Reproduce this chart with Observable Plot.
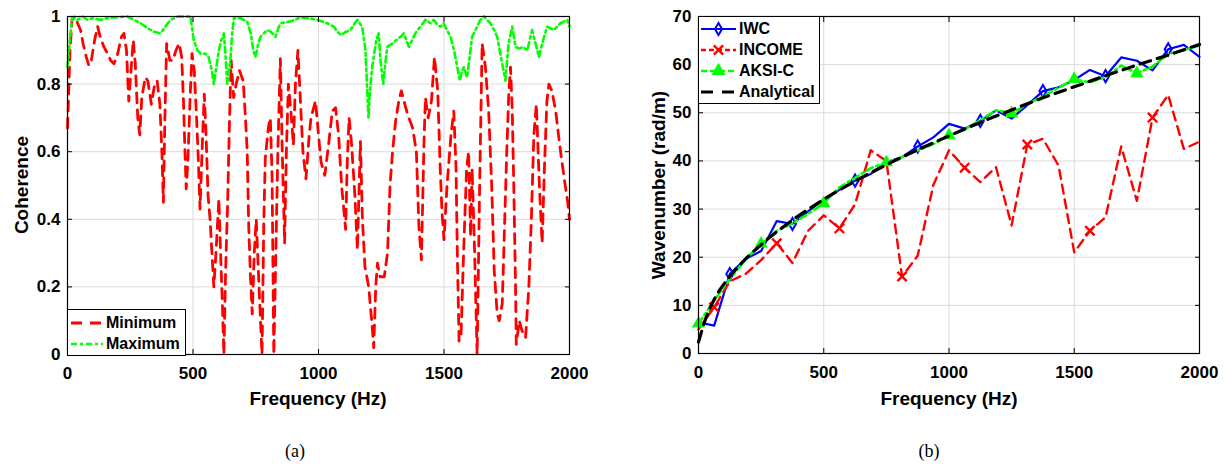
<!DOCTYPE html>
<html>
<head>
<meta charset="utf-8">
<script src="https://cdn.jsdelivr.net/npm/d3@7"></script>
<script src="https://cdn.jsdelivr.net/npm/@observablehq/plot@0.6"></script>
<style>
  body { margin: 0; background: #fff; }
  #fig { position: relative; width: 1225px; height: 464px; overflow: hidden;
         font-family: "Liberation Sans", Arial, Helvetica, sans-serif; color: #000; }
  .panel { position: absolute; top: 0; }
  .xt { position: absolute; width: 240px; text-align: center; font-weight: bold;
        font-size: 19px; line-height: 20px; white-space: nowrap; }
  .yt { position: absolute; font-weight: bold; font-size: 19px; line-height: 20px;
        white-space: nowrap; transform: translate(-50%, -50%) rotate(-90deg); }
  .cap { position: absolute; width: 60px; text-align: center; font-family: "Liberation Serif", "Times New Roman", serif;
         font-size: 18px; line-height: 20px; }
  .legend { position: absolute; background: #fff; border: 1px solid #000; box-sizing: border-box; }
  .row { position: absolute; left: 0; height: 20px; display: flex; align-items: center;
         font-weight: bold; font-size: 16px; white-space: nowrap; }
  .row svg { display: block; margin-right: 3px; }
</style>
</head>
<body>
<div id="fig"></div>
<script>
// ---- Panel (a): coherence bounds over frequency ----
const minFreq = [0,5,10,18,30,40,52,62,75,85,95,108,120,130,145,160,172,185,200,215,225,235,244,252,262,270,280,288,296,310,320,334,345,357,368,376,382,388,395,408,420,432,445,455,462,468,473,480,488,496,505,513,520,528,535,545,552,560,568,577,583,593,603,610,617,623,630,638,645,652,662,672,685,700,709,716,722,729,736,744,752,762,769,775,782,788,800,808,815,822,830,838,848,855,865,872,880,890,900,908,918,928,938,950,962,970,988,1000,1010,1025,1040,1055,1068,1080,1092,1108,1115,1122,1132,1145,1155,1162,1167,1175,1185,1200,1213,1220,1228,1235,1245,1262,1275,1285,1295,1307,1320,1330,1355,1375,1390,1400,1410,1420,1426,1437,1450,1462,1475,1485,1492,1500,1512,1528,1539,1548,1553,1560,1568,1578,1590,1598,1606,1612,1622,1632,1642,1652,1665,1678,1690,1700,1712,1720,1732,1740,1750,1758,1765,1772,1778,1785,1788,1800,1811,1825,1838,1848,1858,1868,1880,1891,1900,1910,1918,1930,1945,1956,1968,1985,1993,2000];
const minCoh = [0.67,0.78,0.9,0.99,1.0,0.98,0.96,0.92,0.88,0.855,0.87,0.93,0.97,0.94,0.91,0.89,0.87,0.86,0.89,0.94,0.95,0.9,0.75,0.83,0.93,0.86,0.7,0.65,0.76,0.82,0.81,0.74,0.79,0.81,0.74,0.6,0.45,0.7,0.92,0.87,0.87,0.9,0.92,0.88,0.75,0.6,0.49,0.58,0.75,0.89,0.84,0.72,0.6,0.43,0.58,0.77,0.65,0.47,0.4,0.28,0.2,0.32,0.46,0.3,0.15,0.0,0.25,0.45,0.68,0.87,0.76,0.8,0.84,0.81,0.7,0.6,0.38,0.23,0.12,0.3,0.4,0.22,0.1,0.0,0.39,0.58,0.67,0.7,0.53,0.0,0.3,0.6,0.875,0.62,0.33,0.6,0.8,0.72,0.62,0.8,0.9,0.75,0.6,0.52,0.64,0.7,0.75,0.65,0.57,0.53,0.62,0.72,0.73,0.65,0.5,0.37,0.58,0.7,0.62,0.47,0.31,0.5,0.63,0.4,0.26,0.2,0.09,0.02,0.2,0.27,0.23,0.23,0.3,0.5,0.6,0.69,0.75,0.78,0.71,0.67,0.6,0.38,0.28,0.62,0.76,0.7,0.75,0.88,0.78,0.55,0.42,0.34,0.5,0.65,0.72,0.55,0.3,0.04,0.06,0.3,0.55,0.6,0.35,0.55,0.3,0.0,0.5,0.92,0.85,0.72,0.5,0.25,0.12,0.1,0.15,0.35,0.6,0.77,0.85,0.72,0.5,0.2,0.03,0.1,0.07,0.05,0.2,0.4,0.65,0.74,0.5,0.33,0.55,0.75,0.8,0.78,0.72,0.65,0.58,0.49,0.45,0.4];

const maxFreq = [0,8,19,40,60,80,100,130,160,200,238,265,291,320,344,371,390,410,440,477,490,503,518,530,550,562,575,583,593,603,613,623,630,636,643,649,656,663,689,716,730,740,749,760,769,795,810,829,840,849,888,928,960,995,1035,1060,1088,1110,1127,1154,1174,1187,1193,1199,1205,1214,1230,1240,1247,1258,1266,1274,1294,1310,1327,1340,1360,1386,1406,1426,1446,1459,1475,1486,1498,1512,1526,1540,1553,1563,1572,1579,1592,1602,1612,1632,1645,1659,1685,1700,1712,1722,1732,1745,1757,1772,1785,1800,1815,1832,1851,1865,1878,1895,1911,1938,1964,1991,2000];
const maxCoh = [0.85,0.92,0.998,0.99,1.0,0.99,0.995,0.99,0.995,0.998,1.0,0.99,0.98,0.965,0.955,0.95,0.97,0.99,1.0,1.0,1.0,0.93,0.9,0.89,0.89,0.88,0.84,0.8,0.85,0.9,0.93,0.95,0.88,0.8,0.84,0.87,0.95,0.995,0.995,0.985,0.95,0.9,0.88,0.92,0.94,0.96,0.955,0.94,0.965,0.98,0.985,0.997,0.995,0.99,0.98,0.97,0.945,0.955,0.96,0.99,0.97,0.9,0.8,0.7,0.78,0.85,0.93,0.95,0.87,0.8,0.86,0.91,0.92,0.93,0.94,0.95,0.91,0.95,0.97,0.99,0.98,0.99,0.975,0.97,0.98,0.96,0.94,0.9,0.85,0.81,0.84,0.85,0.82,0.88,0.94,0.97,0.99,1.0,0.98,0.96,0.94,0.9,0.86,0.81,0.92,0.97,0.91,0.905,0.91,0.9,0.96,0.92,0.88,0.93,0.97,0.96,0.98,0.99,0.97];

const freqTicks = [0, 500, 1000, 1500, 2000];
const cohTicks = [0, 0.2, 0.4, 0.6, 0.8, 1];

// ---- Panel (b): wavenumber estimates over frequency ----
const waveFreq = [0,62.5,125,187.5,250,312.5,375,437.5,500,562.5,625,687.5,750,812.5,875,937.5,1000,1062.5,1125,1187.5,1250,1312.5,1375,1437.5,1500,1562.5,1625,1687.5,1750,1812.5,1875,1937.5,2000];
const iwc    = [6.5,5.8,16.5,19.6,21.3,27.5,26.9,29.5,32,34,35.9,37.3,39.7,40.8,43,44.9,47.7,46.7,48.3,50.5,48.8,51.6,54.5,55.3,56.8,58.9,57.6,61.5,60.8,58.8,63.2,64.1,61.6];
const income = [5,9.6,15,16.5,19.4,22.9,18.8,25.5,28.7,26,31,42.2,40,16,20.3,35,42.2,38.6,35.6,38.7,26.6,43.4,44.6,39,21,25.5,28.3,43,31.7,49,53.7,42.5,44];
const aksi   = [6.2,11,15.5,19.5,22.8,25.5,27,29,31.2,34.5,36.5,38.5,39.7,40.8,42.2,43.5,45.3,46.5,48.5,50.5,49.9,51.8,53.4,55.2,57,56.3,57.4,59.8,58.2,59.6,62.2,63,64];
const anaFreq = [0,31.25,62.5,125,187.5,250,375,500,625,750,875,1000,1125,1250,1375,1500,1625,1750,1875,2000];
const analytical = [2.4,7.6,11.2,16,19.6,22.6,27.7,32,35.8,39.2,42.3,45.2,48,50.6,53.1,55.4,57.7,59.9,62,64.2];
const waveTicks = [0, 10, 20, 30, 40, 50, 60, 70];

const RED = "#ff0000", GREEN = "#00ff00", BLUE = "#0000ff";
const GRID = "#dadada";
const fontStyle = {
  fontFamily: "'Liberation Sans', Arial, Helvetica, sans-serif",
  fontSize: "17px", fontWeight: "bold", color: "#000", background: "transparent", overflow: "visible"
};
const fmt = d => String(d);

function axes(xTicks, yTicks) {
  return [
    Plot.axisX(xTicks, {anchor: "bottom", tickSize: -5, tickPadding: 17, tickFormat: fmt, label: null}),
    Plot.axisX(xTicks, {anchor: "top", tickSize: -5, tickFormat: () => "", label: null}),
    Plot.axisY(yTicks, {anchor: "left", tickSize: -5, tickPadding: 12, tickFormat: fmt, label: null}),
    Plot.axisY(yTicks, {anchor: "right", tickSize: -5, tickFormat: () => "", label: null}),
    Plot.frame({stroke: "#000", strokeWidth: 1.2})
  ];
}

const minData = minFreq.map((f, i) => ({f, v: minCoh[i]}));
const maxData = maxFreq.map((f, i) => ({f, v: maxCoh[i]}));

const plotA = Plot.plot({
  width: 600, height: 420,
  marginLeft: 67, marginRight: 31, marginTop: 16, marginBottom: 66,
  x: {domain: [0, 2000], label: null},
  y: {domain: [0, 1], label: null},
  style: fontStyle,
  marks: [
    Plot.gridX(freqTicks, {stroke: GRID, strokeOpacity: 1}),
    Plot.gridY(cohTicks, {stroke: GRID, strokeOpacity: 1}),
    Plot.line(minData, {x: "f", y: "v", stroke: RED, strokeWidth: 2.8, strokeDasharray: "10,7"}),
    Plot.line(maxData, {x: "f", y: "v", stroke: GREEN, strokeWidth: 2.6, strokeDasharray: "6,3.5,2.5,3.5"}),
    ...axes(freqTicks, cohTicks)
  ]
});

const waveData = waveFreq.map((f, i) => ({f, iwc: iwc[i], income: income[i], aksi: aksi[i], i}));
const anaData = anaFreq.map((f, i) => ({f, k: analytical[i]}));

const plotB = Plot.plot({
  width: 600, height: 420,
  marginLeft: 67, marginRight: 32, marginTop: 16, marginBottom: 67,
  x: {domain: [0, 2000], label: null},
  y: {domain: [0, 70], label: null},
  style: fontStyle,
  marks: [
    Plot.gridX(freqTicks, {stroke: GRID, strokeOpacity: 1}),
    Plot.gridY(waveTicks, {stroke: GRID, strokeOpacity: 1}),
    Plot.line(waveData, {x: "f", y: "iwc", stroke: BLUE, strokeWidth: 2.2}),
    Plot.dot(waveData.filter(d => d.i % 4 === 2), {x: "f", y: "iwc", symbol: "diamond", r: 3.7, stroke: BLUE, strokeWidth: 2, fill: "none"}),
    Plot.line(waveData, {x: "f", y: "income", stroke: RED, strokeWidth: 2.4, strokeDasharray: "9,6"}),
    Plot.dot(waveData.filter(d => d.i % 4 === 1), {x: "f", y: "income", symbol: "times", r: 4.3, stroke: RED, strokeWidth: 2.4}),
    Plot.line(waveData, {x: "f", y: "aksi", stroke: GREEN, strokeWidth: 2.6, strokeDasharray: "7,3.5,2.5,3.5"}),
    Plot.dot(waveData.filter(d => d.i % 4 === 0 && d.f < 2000), {x: "f", y: "aksi", symbol: "triangle", r: 4, fill: GREEN, stroke: GREEN}),
    Plot.line(anaData, {x: "f", y: "k", stroke: "#000", strokeWidth: 3.2, strokeDasharray: "11,7", curve: "monotone-x"}),
    ...axes(freqTicks, waveTicks)
  ]
});

const fig = document.getElementById("fig");
plotA.classList.add("panel"); plotA.style.left = "0px";
plotB.classList.add("panel"); plotB.style.left = "631px";
fig.append(plotA, plotB);

function addDiv(cls, text, css) {
  const d = document.createElement("div");
  d.className = cls; d.textContent = text;
  Object.assign(d.style, css);
  fig.append(d);
  return d;
}

// Axis titles and panel captions
addDiv("xt", "Frequency (Hz)", {left: (318 - 120) + "px", top: "389px"});
addDiv("xt", "Frequency (Hz)", {left: (949 - 120) + "px", top: "389px"});
addDiv("yt", "Coherence", {left: "22px", top: "185px"});
addDiv("yt", "Wavenumber (rad/m)", {left: "659px", top: "185px"});
addDiv("cap", "(a)", {left: (295 - 30) + "px", top: "441px"});
addDiv("cap", "(b)", {left: (929 - 30) + "px", top: "441px"});

// Legends
const NS = "http://www.w3.org/2000/svg";
function sample(w, stroke, width, dash, symbol) {
  const s = document.createElementNS(NS, "svg");
  s.setAttribute("width", w); s.setAttribute("height", 20);
  const l = document.createElementNS(NS, "line");
  l.setAttribute("x1", 0); l.setAttribute("x2", w); l.setAttribute("y1", 10); l.setAttribute("y2", 10);
  l.setAttribute("stroke", stroke); l.setAttribute("stroke-width", width);
  if (dash) l.setAttribute("stroke-dasharray", dash);
  s.append(l);
  if (symbol) {
    const p = document.createElementNS(NS, "path");
    p.setAttribute("d", d3.symbol(symbol.type, symbol.r * symbol.r * Math.PI)());
    p.setAttribute("transform", `translate(${w / 2},10)`);
    p.setAttribute("fill", symbol.fill || "none");
    p.setAttribute("stroke", stroke);
    p.setAttribute("stroke-width", symbol.sw || 2);
    s.append(p);
  }
  return s;
}
function legend(left, top, width, rows, rowTops, sampleW, pad) {
  const box = document.createElement("div");
  box.className = "legend";
  Object.assign(box.style, {left: left + "px", top: top + "px", width: width + "px",
    height: (rowTops[rowTops.length - 1] + 20 + 3) + "px"});
  rows.forEach((r, i) => {
    const row = document.createElement("div");
    row.className = "row";
    row.style.top = rowTops[i] + "px";
    row.style.paddingLeft = pad + "px";
    row.append(sample(sampleW, r.stroke, r.width, r.dash, r.symbol));
    const t = document.createElement("span"); t.textContent = r.label;
    row.append(t);
    box.append(row);
  });
  fig.append(box);
}

legend(67, 309, 119, [
  {label: "Minimum", stroke: RED, width: 2.8, dash: "11,8"},
  {label: "Maximum", stroke: GREEN, width: 2.6, dash: "6,3,3,3"}
], [3, 24], 32, 3);

legend(698, 16, 122, [
  {label: "IWC", stroke: BLUE, width: 2.2, symbol: {type: d3.symbolDiamond, r: 3.7}},
  {label: "INCOME", stroke: RED, width: 2.4, dash: "5,3", symbol: {type: d3.symbolTimes, r: 4.3, sw: 2.4}},
  {label: "AKSI-C", stroke: GREEN, width: 2.6, dash: "6,3", symbol: {type: d3.symbolTriangle, r: 4, fill: GREEN}},
  {label: "Analytical", stroke: "#000", width: 3.2, dash: "12,9"}
], [2, 23, 44, 65], 35, 2);
</script>
</body>
</html>
